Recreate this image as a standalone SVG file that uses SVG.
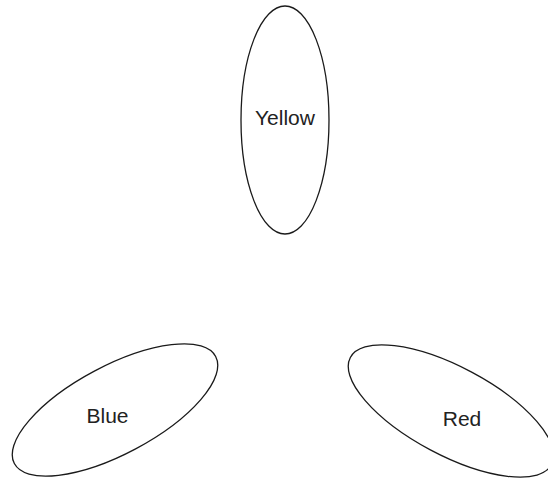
<svg xmlns="http://www.w3.org/2000/svg" width="548" height="478" viewBox="0 0 548 478">
<style>
.petal{fill:none;stroke:#1a1a1a;stroke-width:1.3}
.lbl{font-family:"Liberation Sans",Arial,sans-serif;font-size:21px;fill:#222;text-anchor:middle}
</style>
<rect width="548" height="478" fill="#fff"/>
<g id="connectors"></g>
<g id="yellow">
<ellipse class="petal" cx="285" cy="120" rx="44" ry="114"/>
<text class="lbl" x="285" y="125">Yellow</text>
</g>
<g id="blue">
<ellipse class="petal" cx="115" cy="410" rx="114" ry="44" transform="rotate(-28 115 410)"/>
<text class="lbl" x="107.5" y="423">Blue</text>
</g>
<g id="red">
<ellipse class="petal" cx="451" cy="411" rx="114" ry="44" transform="rotate(28 451 411)"/>
<text class="lbl" x="462" y="426">Red</text>
</g>
</svg>
